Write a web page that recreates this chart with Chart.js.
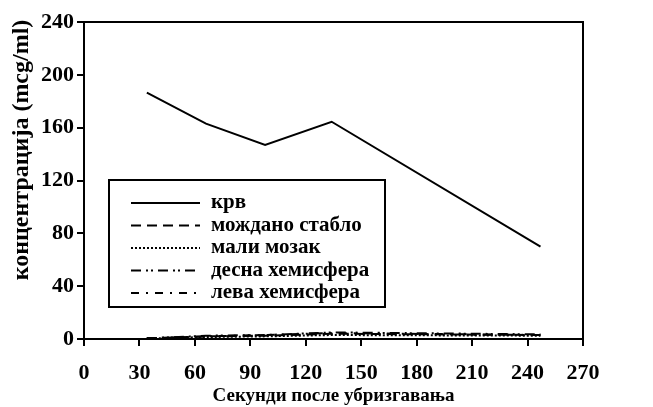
<!DOCTYPE html>
<html>
<head>
<meta charset="utf-8">
<script src="https://cdn.jsdelivr.net/npm/chart.js@4.4.1/dist/chart.umd.min.js"></script>
<style>
  html, body { margin: 0; padding: 0; background: #fff; }
  #wrap { width: 653px; height: 407px; }
</style>
</head>
<body>
<div id="wrap"><canvas id="chart" width="653" height="407"></canvas></div>
<script>
// seconds after injection
const seconds = [34, 66, 98, 134, 247];

const krv = [186.5, 163, 147, 164.5, 70];
const mozdanoStablo = [0.5, 2, 2.5, 4, 3];
const maliMozak = [0.3, 1.5, 2, 3, 2.5];
const desnaHemisfera = [0.5, 2.5, 3, 5, 3.5];
const levaHemisfera = [0.5, 2, 3, 4.5, 3];

const seriesNames = ["крв", "мождано стабло", "мали мозак", "десна хемисфера", "лева хемисфера"];
const dashes = [[], [10, 6], [2, 2], [10, 5, 2, 3, 2, 5], [8, 7, 2, 7]];
const yTitle = "концентрација (mcg/ml)";

const FONT = "'Liberation Serif', 'Times New Roman', serif";

const toPoints = (vals) => vals.map((v, i) => ({ x: seconds[i], y: v }));

const datasets = [krv, mozdanoStablo, maliMozak, desnaHemisfera, levaHemisfera].map((vals, i) => ({
  label: seriesNames[i],
  data: toPoints(vals),
  borderColor: "#000",
  borderWidth: 2,
  borderDash: dashes[i],
  pointRadius: 0,
  tension: 0,
  fill: false,
}));

// frame around the plot, y title and custom legend with line samples
const framePlugin = {
  id: "frame",
  afterDraw(chart) {
    const { ctx, chartArea: a } = chart;
    ctx.save();
    ctx.strokeStyle = "#000";
    ctx.fillStyle = "#000";
    ctx.lineWidth = 2;
    ctx.setLineDash([]);
    ctx.strokeRect(a.left, a.top, a.right - a.left, a.bottom - a.top);

    // y axis title
    ctx.save();
    ctx.translate(22, 150);
    ctx.rotate(-Math.PI / 2);
    ctx.font = "bold 24px " + FONT;
    ctx.textAlign = "center";
    ctx.textBaseline = "middle";
    ctx.fillText(yTitle, 0, 0);
    ctx.restore();

    // legend box
    const bx = a.left + 25, by = a.top + 158, bw = 276, bh = 127;
    ctx.strokeRect(bx, by, bw, bh);
    ctx.font = "bold 21px " + FONT;
    ctx.textBaseline = "middle";
    seriesNames.forEach((name, i) => {
      const y = by + 23 + i * 22.5;
      ctx.beginPath();
      ctx.setLineDash(dashes[i]);
      ctx.lineWidth = 2;
      ctx.moveTo(bx + 22, y);
      ctx.lineTo(bx + 91, y);
      ctx.stroke();
      ctx.fillText(name, bx + 102, y);
    });
    ctx.restore();
  },
};

new Chart(document.getElementById("chart").getContext("2d"), {
  type: "line",
  data: { datasets },
  options: {
    responsive: false,
    animation: false,
    layout: { padding: { left: 0, top: 22, right: 70, bottom: 0 } },
    plugins: { legend: { display: false }, tooltip: { enabled: false } },
    scales: {
      x: {
        type: "linear",
        min: 0,
        max: 270,
        afterFit: (s) => { s.height = 68; },
        ticks: {
          stepSize: 30,
          color: "#000",
          font: { family: FONT, size: 22, weight: "bold" },
          padding: 14,
          maxRotation: 0,
        },
        grid: { drawOnChartArea: false, color: "#000", lineWidth: 2, tickLength: 7 },
        border: { color: "#000", width: 2 },
        title: {
          display: true,
          text: "Секунди после убризгавања",
          color: "#000",
          font: { family: FONT, size: 19, weight: "bold" },
          padding: { top: 0, bottom: 0 },
        },
      },
      y: {
        min: 0,
        max: 240,
        afterFit: (s) => { s.width = 84; },
        ticks: {
          stepSize: 40,
          color: "#000",
          font: { family: FONT, size: 22, weight: "bold" },
          padding: 3,
        },
        grid: { drawOnChartArea: false, color: "#000", lineWidth: 2, tickLength: 7 },
        border: { color: "#000", width: 2 },
        title: { display: false },
      },
    },
  },
  plugins: [framePlugin],
});
</script>
</body>
</html>
